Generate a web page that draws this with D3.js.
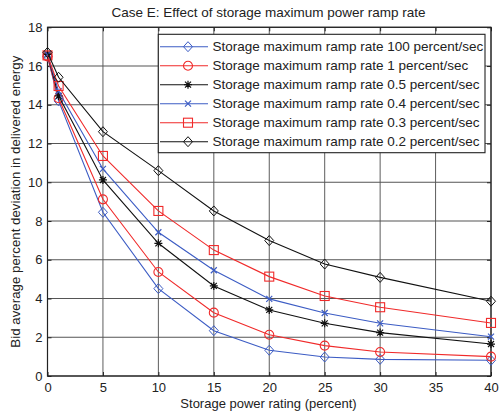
<!DOCTYPE html>
<html><head><meta charset="utf-8">
<script src="https://cdn.jsdelivr.net/npm/d3@7"></script>
<style>body{margin:0;background:#fff;} text{font-family:"Liberation Sans",Arial,sans-serif;fill:#222;}</style>
</head><body>
<svg id="c" width="499" height="416"></svg>
<script>
const xValues = [0, 1, 5, 10, 15, 20, 25, 30, 40];
const seriesNames = [
  "Storage maximum ramp rate 100 percent/sec",
  "Storage maximum ramp rate 1 percent/sec",
  "Storage maximum ramp rate 0.5 percent/sec",
  "Storage maximum ramp rate 0.4 percent/sec",
  "Storage maximum ramp rate 0.3 percent/sec",
  "Storage maximum ramp rate 0.2 percent/sec"
];
const rate100 = [16.5, 14.2, 8.45, 4.51, 2.34, 1.33, 0.98, 0.86, 0.81];
const rate1   = [16.5, 14.34, 9.12, 5.37, 3.27, 2.13, 1.57, 1.24, 1.0];
const rate05  = [16.6, 14.46, 10.12, 6.85, 4.65, 3.41, 2.72, 2.24, 1.65];
const rate04  = [16.6, 14.7, 10.69, 7.42, 5.46, 3.98, 3.25, 2.72, 2.03];
const rate03  = [16.55, 14.97, 11.36, 8.52, 6.5, 5.13, 4.13, 3.55, 2.74];
const rate02  = [16.7, 15.42, 12.61, 10.6, 8.52, 6.99, 5.78, 5.09, 3.86];
const xTicks = [0, 5, 10, 15, 20, 25, 30, 35, 40];
const yTicks = [0, 2, 4, 6, 8, 10, 12, 14, 16, 18];
const titleText = "Case E: Effect of storage maximum power ramp rate";
const xLabel = "Storage power rating (percent)";
const yLabel = "Bid average percent deviation in delivered energy";

const BLUE = "#3c5cc4", RED = "#f02a2a", BLACK = "#111";
const styles = [
  {color: BLUE, marker: "diamond"},
  {color: RED, marker: "circle"},
  {color: BLACK, marker: "star"},
  {color: BLUE, marker: "x"},
  {color: RED, marker: "square"},
  {color: BLACK, marker: "diamond"}
];
const data = [rate100, rate1, rate05, rate04, rate03, rate02];

const svg = d3.select("#c");
const L = 47.5, R = 491, T = 27.3, B = 376;
const x = d3.scaleLinear().domain([0, 40]).range([L, R]);
const y = d3.scaleLinear().domain([0, 18]).range([B, T]);

// grid
const g = svg.append("g");
g.selectAll(".gx").data(xTicks).join("line")
  .attr("x1", d => x(d)).attr("x2", d => x(d)).attr("y1", T).attr("y2", B)
  .attr("stroke", "#333").attr("stroke-width", 0.8);
g.selectAll(".gy").data(yTicks).join("line")
  .attr("x1", L).attr("x2", R).attr("y1", d => y(d)).attr("y2", d => y(d))
  .attr("stroke", "#555").attr("stroke-width", 1.1);

// axes
const xAxis = d3.axisBottom(x).tickValues(xTicks).tickSize(-4).tickPadding(6.5);
const yAxis = d3.axisLeft(y).tickValues(yTicks).tickSize(-4).tickPadding(5);
const gx = svg.append("g").attr("transform", `translate(0,${B})`).call(xAxis);
const gy = svg.append("g").attr("transform", `translate(${L},0)`).call(yAxis);
[gx, gy].forEach(a => {
  a.select(".domain").remove();
  a.selectAll("text").style("font-size", "13px").attr("fill", "#222").style("font-family", "Liberation Sans, Arial, sans-serif");
  a.selectAll("line").attr("stroke", "#222");
});
// top/right ticks
svg.append("g").attr("transform", `translate(0,${T})`).call(d3.axisTop(x).tickValues(xTicks).tickSize(-4).tickFormat(""))
  .call(a => { a.select(".domain").remove(); a.selectAll("line").attr("stroke", "#222"); });
svg.append("g").attr("transform", `translate(${R},0)`).call(d3.axisRight(y).tickValues(yTicks).tickSize(-4).tickFormat(""))
  .call(a => { a.select(".domain").remove(); a.selectAll("line").attr("stroke", "#222"); });

svg.append("rect").attr("x", L).attr("y", T).attr("width", R - L).attr("height", B - T)
  .attr("fill", "none").attr("stroke", "#222").attr("stroke-width", 1.2);

function drawMarker(sel, type, color) {
  if (type === "diamond") {
    sel.append("path").attr("d", "M0,-5L4.5,0L0,5L-4.5,0Z").attr("fill", "none").attr("stroke", color).attr("stroke-width", 1);
  } else if (type === "circle") {
    sel.append("circle").attr("r", 4.5).attr("fill", "none").attr("stroke", color).attr("stroke-width", 1.1);
  } else if (type === "square") {
    sel.append("rect").attr("x", -4.5).attr("y", -4.5).attr("width", 9).attr("height", 9).attr("fill", "none").attr("stroke", color).attr("stroke-width", 1.1);
  } else if (type === "x") {
    sel.append("path").attr("d", "M-3,-3L3,3M-3,3L3,-3").attr("stroke", color).attr("stroke-width", 1.2);
  } else if (type === "star") {
    sel.append("path").attr("d", "M-4,0L4,0M0,-4L0,4M-3,-3L3,3M-3,3L3,-3").attr("stroke", color).attr("stroke-width", 1.2);
  }
}

const line = d3.line().x((d, i) => x(xValues[i])).y(d => y(d));
data.forEach((vals, si) => {
  const st = styles[si];
  svg.append("path").datum(vals).attr("d", line).attr("fill", "none").attr("stroke", st.color).attr("stroke-width", 1.1);
  vals.forEach((v, i) => {
    const m = svg.append("g").attr("transform", `translate(${x(xValues[i])},${y(v)})`);
    drawMarker(m, st.marker, st.color);
  });
});

// legend
const lg = svg.append("g");
lg.append("rect").attr("x", 158.3).attr("y", 34.3).attr("width", 326.7).attr("height", 118.4)
  .attr("fill", "#fff").attr("stroke", "#222").attr("stroke-width", 1.1);
seriesNames.forEach((n, i) => {
  const yy = 46.7 + i * 19;
  const st = styles[i];
  lg.append("line").attr("x1", 160).attr("x2", 208).attr("y1", yy).attr("y2", yy).attr("stroke", st.color).attr("stroke-width", 1.1);
  drawMarker(lg.append("g").attr("transform", `translate(188,${yy})`), st.marker, st.color);
  lg.append("text").attr("x", 212.5).attr("y", yy + 4.7).style("font-size", "13.5px").text(n);
});

svg.append("text").attr("x", 268.5).attr("y", 17).attr("text-anchor", "middle").style("font-size", "13.5px").text(titleText);
svg.append("text").attr("x", 268.5).attr("y", 408).attr("text-anchor", "middle").style("font-size", "13px").text(xLabel);
svg.append("text").attr("transform", `translate(19.5,${(T + B) / 2}) rotate(-90)`).attr("text-anchor", "middle").style("font-size", "13.3px").text(yLabel);
</script>
</body></html>
